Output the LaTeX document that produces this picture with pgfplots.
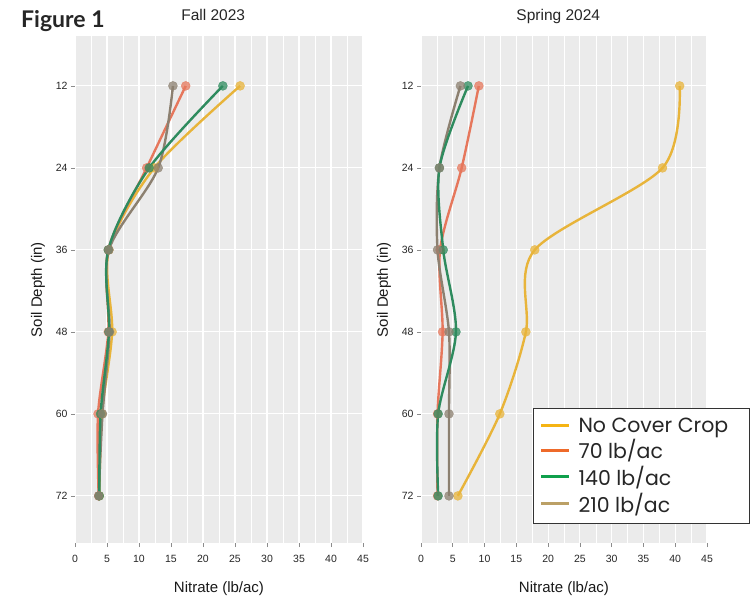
\documentclass[border=0pt]{standalone}
\usepackage{fontspec}
\setmainfont{Liberation Sans}
\newfontfamily\legfont{Poppins}
\newfontfamily\figfont{Lato}
\usepackage{pgfplots}
\pgfplotsset{compat=1.18}
\usepackage{pgfplotstable}

\definecolor{ncc}{HTML}{E8B43A}
\definecolor{c70}{HTML}{E6775C}
\definecolor{c140}{HTML}{2E8B5E}
\definecolor{c210}{HTML}{8C8070}
\definecolor{lnc}{HTML}{F5B414}
\definecolor{l70}{HTML}{EE6A2A}
\definecolor{l140}{HTML}{10A04C}
\definecolor{l210}{HTML}{BBA066}
\definecolor{panelbg}{HTML}{EBEBEB}

\pgfplotstableread{
depth nc r70 r140 r210
12 25.8 17.3 23.1 15.3
24 12.4 11.2 11.6 13.0
36 5.3 5.2 5.2 5.3
48 5.8 5.2 5.3 5.4
60 4.2 3.6 4.0 4.3
72 3.8 3.7 3.8 3.7
}\fall

\pgfplotstableread{
depth nc r70 r140 r210
12 40.7 9.1 7.4 6.2
24 38.0 6.4 2.9 2.9
36 17.9 3.0 3.5 2.6
48 16.5 3.4 5.5 4.4
60 12.4 2.6 2.7 4.4
72 5.8 2.6 2.7 4.4
}\spring

\pgfplotsset{
 panel/.style={
  scale only axis, height=507pt, xmin=0, xmax=45, ymin=4.7, ymax=78.9, y dir=reverse,
  xtick={0,5,...,45}, ytick={12,24,...,72}, minor x tick num=1,
  axis background/.style={fill=panelbg}, axis line style={draw=none},
  xmajorgrids, xminorgrids, ymajorgrids,
  major grid style={white, line width=1.1pt}, minor grid style={white, line width=0.55pt},
  tick align=outside, tick pos=left,
  major tick length=4pt, minor tick length=0pt, tick style={color=black!45, line width=0.6pt},
  every tick label/.append style={font=\fontsize{10.5}{12}\selectfont, text=black!85},
  xticklabel style={yshift=-5pt},
  /pgf/number format/assume math mode=true,
  title style={font=\fontsize{15.5}{18}\selectfont, text=black!85, at={(axis description cs:0.48,1)}, anchor=base, yshift=10pt},
  every axis x label/.style={at={(axis description cs:0.5,0)}, anchor=center, yshift=-46pt, font=\fontsize{15}{18}\selectfont, text=black!90},
  every axis y label/.style={at={(axis description cs:0,0.5)}, rotate=90, anchor=center, yshift=37pt, font=\fontsize{15}{18}\selectfont, text=black!90},
  xlabel={Nitrate (lb/ac)}, ylabel={Soil Depth (in)},
 },
 ln/.style={smooth, line width=2.4pt, no marks, forget plot},
 pt/.style={only marks, mark=*, mark size=4.5pt, opacity=0.75, forget plot},
}

\begin{document}
\begin{tikzpicture}
\useasboundingbox (0pt,0pt) rectangle (755pt,-601pt);
\node[anchor=base west, inner sep=0pt, font=\figfont\bfseries\fontsize{23}{26}\selectfont, text=black!85] at (21pt,-28pt) {Figure 1};

\begin{axis}[panel, at={(75pt,-36pt)}, anchor=north west, width=288pt, title={Fall 2023}]
\addplot[ln, ncc] table[x=nc, y=depth]{\fall};
\addplot[ln, c70] table[x=r70, y=depth]{\fall};
\addplot[ln, c210] table[x=r210, y=depth]{\fall};
\addplot[ln, c140] table[x=r140, y=depth]{\fall};
\addplot[pt, ncc] table[x=nc, y=depth]{\fall};
\addplot[pt, c70] table[x=r70, y=depth]{\fall};
\addplot[pt, c140] table[x=r140, y=depth]{\fall};
\addplot[pt, c210] table[x=r210, y=depth]{\fall};
\end{axis}

\begin{axis}[panel, at={(421pt,-36pt)}, anchor=north west, width=286pt, title={Spring 2024},
  legend image code/.code={\draw[#1, line width=3pt] (0pt,0pt) -- (28pt,0pt);},
  legend style={at={(axis description cs:0.392,0.266)}, anchor=north west, draw=black!80, line width=0.9pt, fill=white,
    font=\legfont\fontsize{20.5}{23}\selectfont, text=black!85, inner xsep=6pt, inner ysep=7pt, row sep=2.1pt, column sep=6pt, cells={anchor=west}}]
\addlegendimage{lnc}\addlegendentry{No Cover Crop\kern13pt}
\addlegendimage{l70}\addlegendentry{70 lb/ac}
\addlegendimage{l140}\addlegendentry{140 lb/ac}
\addlegendimage{l210}\addlegendentry{210 lb/ac}
\addplot[ln, ncc] table[x=nc, y=depth]{\spring};
\addplot[ln, c70] table[x=r70, y=depth]{\spring};
\addplot[ln, c210] table[x=r210, y=depth]{\spring};
\addplot[ln, c140] table[x=r140, y=depth]{\spring};
\addplot[pt, ncc] table[x=nc, y=depth]{\spring};
\addplot[pt, c70] table[x=r70, y=depth]{\spring};
\addplot[pt, c140] table[x=r140, y=depth]{\spring};
\addplot[pt, c210] table[x=r210, y=depth]{\spring};
\end{axis}
\end{tikzpicture}
\end{document}
